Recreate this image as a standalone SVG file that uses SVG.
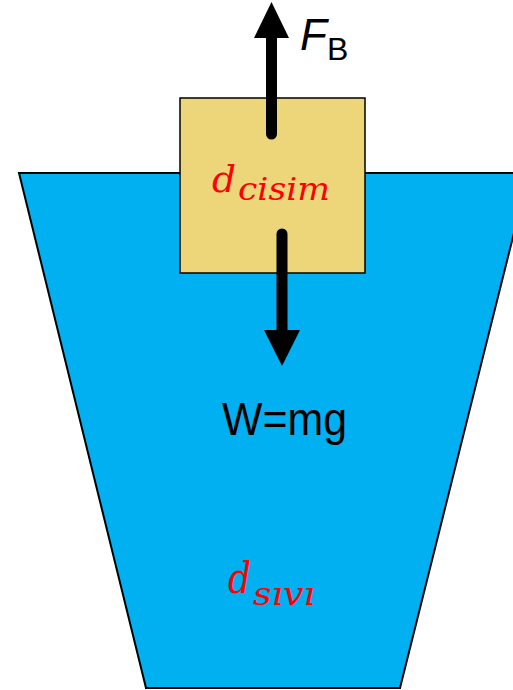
<svg xmlns="http://www.w3.org/2000/svg" width="513" height="690" viewBox="0 0 513 690">
<style>
.sans{font-family:"Liberation Sans",Arial,sans-serif;fill:#000}
.math{font-family:"DejaVu Serif","Liberation Serif",serif;font-style:italic;fill:#FF0000}
</style>
<rect width="513" height="690" fill="#fff"/>
<g id="liquid">
<polygon points="19,173 529,173 400,688 146,688" fill="#00B0F0" stroke="#000" stroke-width="2"/>
<text class="math" x="228" y="593" font-size="42"><tspan textLength="23" lengthAdjust="spacingAndGlyphs">d</tspan><tspan x="253" y="605" font-size="32" textLength="62" lengthAdjust="spacingAndGlyphs">sıvı</tspan></text>
</g>
<g id="block">
<rect x="180" y="98" width="185" height="175" fill="#EDD57A" stroke="#000" stroke-width="1.5"/>
<text class="math" x="212" y="192" font-size="38"><tspan textLength="24" lengthAdjust="spacingAndGlyphs">d</tspan><tspan x="238" y="200" font-size="32" textLength="92" lengthAdjust="spacingAndGlyphs">cisim</tspan></text>
</g>
<g id="connectors">
<line x1="271.5" y1="134" x2="271.5" y2="36" stroke="#000" stroke-width="11" stroke-linecap="round"/>
<polygon points="271.5,2 289,38 254,38" fill="#000"/>
<line x1="282" y1="234" x2="282" y2="332" stroke="#000" stroke-width="11" stroke-linecap="round"/>
<polygon points="264,330 300,330 282,366" fill="#000"/>
</g>
<g id="labels">
<text class="sans" x="300" y="50" font-size="44"><tspan font-style="italic">F</tspan><tspan x="327" y="60" font-size="32">B</tspan></text>
<text class="sans" x="222" y="435" font-size="46" textLength="125" lengthAdjust="spacingAndGlyphs">W=mg</text>
</g>
</svg>
